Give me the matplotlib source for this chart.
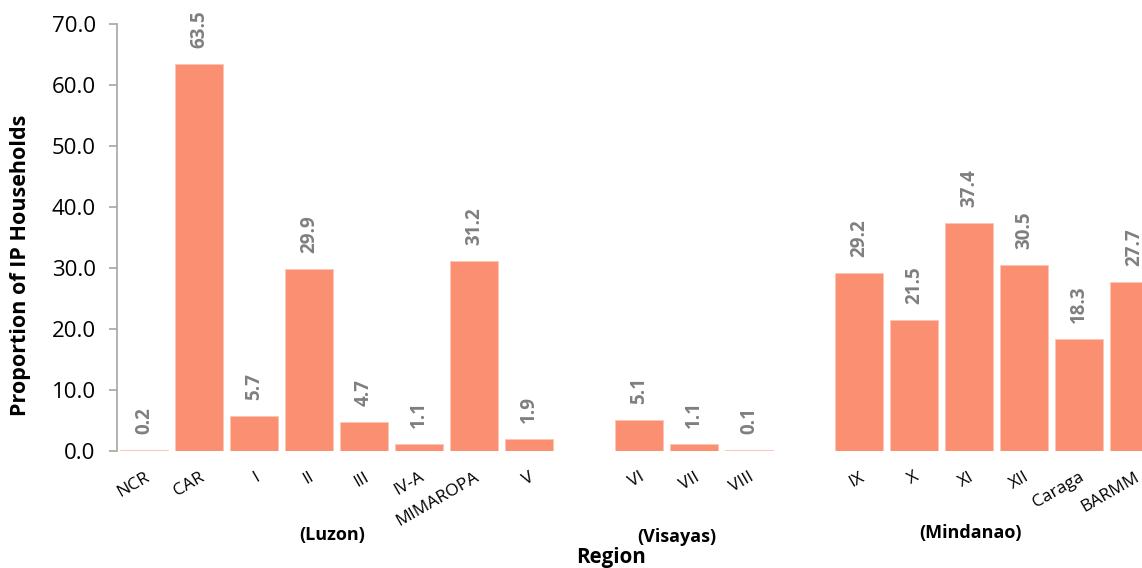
import matplotlib
matplotlib.use("Agg")
import matplotlib.pyplot as plt

plt.rcParams["font.family"] = ["Open Sans", "DejaVu Sans"]

# regions by island group, in display order
luzon = ["NCR", "CAR", "I", "II", "III", "IV-A", "MIMAROPA", "V"]
luzon_vals = [0.2, 63.5, 5.7, 29.9, 4.7, 1.1, 31.2, 1.9]
visayas = ["VI", "VII", "VIII"]
visayas_vals = [5.1, 1.1, 0.1]
mindanao = ["IX", "X", "XI", "XII", "Caraga", "BARMM"]
mindanao_vals = [29.2, 21.5, 37.4, 30.5, 18.3, 27.7]
group_names = ["(Luzon)", "(Visayas)", "(Mindanao)"]
y_ticks = [0, 10, 20, 30, 40, 50, 60, 70]

BAR = "#fa8f71"
GREY_TXT = "#7f7f7f"

groups = [(luzon, luzon_vals), (visayas, visayas_vals), (mindanao, mindanao_vals)]

# one empty slot between island groups
pos, labels, vals = [], [], []
slot = 0
for names, values in groups:
    for n, v in zip(names, values):
        pos.append(slot)
        labels.append(n)
        vals.append(v)
        slot += 1
    slot += 1
n_slots = slot - 1

fig = plt.figure(figsize=(11.42, 5.68), dpi=100)
ax = fig.add_axes([116.5 / 1142, 117 / 568, 1045 / 1142, 427 / 568])

ax.bar(pos, vals, width=0.87, color=BAR, edgecolor="#fcc5b4", linewidth=0.6)
for x, v in zip(pos, vals):
    ax.annotate(f"{v:.1f}", (x, v), xytext=(0, 11.5), textcoords="offset points",
                rotation=90, ha="center", va="bottom", color=GREY_TXT,
                fontsize=13.5, fontweight="bold")

ax.set_xlim(-0.5, n_slots - 0.5)
ax.set_ylim(0, 70)
ax.set_yticks(y_ticks)
ax.set_yticklabels([f"{t:.1f}" for t in y_ticks], fontsize=16)
ax.set_xticks(pos)
ax.set_xticklabels(labels, rotation=30, ha="right", rotation_mode="anchor", fontsize=12.5)
ax.tick_params(axis="x", length=0, pad=13)
ax.tick_params(axis="y", length=6, color="#a6a6a6", width=1.2, pad=9)

for s in ["top", "right", "bottom"]:
    ax.spines[s].set_visible(False)
ax.spines["left"].set_color("#a6a6a6")
ax.spines["left"].set_linewidth(1.2)

ax.set_ylabel("Proportion of IP Households", fontsize=15.5, fontweight="bold")
ax.yaxis.set_label_coords(-(116.5 - 31) / 1045, 0.436)

# island group captions and axis title
fig.text(332 / 1142, 1 - 535 / 568, group_names[0], ha="center", va="center",
         fontsize=13, fontweight="bold")
fig.text(677 / 1142, 1 - 537 / 568, group_names[1], ha="center", va="center",
         fontsize=13, fontweight="bold")
fig.text(971 / 1142, 1 - 533 / 568, group_names[2], ha="center", va="center",
         fontsize=13, fontweight="bold")
fig.text(611 / 1142, 1 - 557 / 568, "Region", ha="center", va="center",
         fontsize=14.8, fontweight="bold")

fig.savefig("out.png", dpi=100)
